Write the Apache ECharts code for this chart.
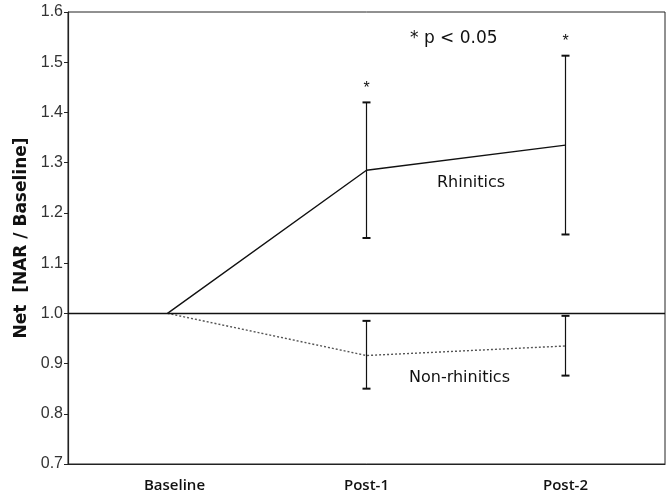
<!DOCTYPE html>
<html><head><meta charset="utf-8">
<script src="https://cdn.jsdelivr.net/npm/echarts@6/dist/echarts.min.js"></script>
<style>html,body{margin:0;padding:0;background:#fff}#c{width:667px;height:495px}</style>
</head><body><div id="c"></div>
<script>
const categories = ['Baseline', 'Post-1', 'Post-2'];
const rhinitics = [1.0, 1.285, 1.335];
const rhiniticsLow = [null, 1.15, 1.157];
const rhiniticsHigh = [null, 1.42, 1.513];
const nonRhinitics = [1.0, 0.916, 0.935];
const nonRhiniticsLow = [null, 0.85, 0.876];
const nonRhiniticsHigh = [null, 0.985, 0.995];
const significant = [false, true, true];
const yTicks = [0.7, 1.6, 0.1];

const chart = echarts.init(document.getElementById('c'));

function errData(low, high) {
  const d = [];
  for (let i = 0; i < categories.length; i++) {
    if (low[i] != null) d.push([i, low[i], high[i], significant[i] ? 1 : 0]);
  }
  return d;
}

function renderErr(withStar) {
  return function (params, api) {
    const x = api.value(0);
    const lo = api.coord([x, api.value(1)]);
    const hi = api.coord([x, api.value(2)]);
    const w = 4;
    const style = { stroke: '#111', lineWidth: 1.2 };
    const children = [
      { type: 'line', shape: { x1: hi[0], y1: hi[1], x2: lo[0], y2: lo[1] }, style },
      { type: 'line', shape: { x1: hi[0] - w, y1: hi[1], x2: hi[0] + w, y2: hi[1] }, style: { stroke: '#111', lineWidth: 2 } },
      { type: 'line', shape: { x1: lo[0] - w, y1: lo[1], x2: lo[0] + w, y2: lo[1] }, style: { stroke: '#111', lineWidth: 2 } }
    ];
    if (withStar && api.value(3) === 1) {
      children.push({ type: 'text', style: { text: '*', x: hi[0], y: hi[1] - 6, align: 'center', verticalAlign: 'bottom', font: '16px "Liberation Sans", Arial, sans-serif', fill: '#111' } });
    }
    return { type: 'group', children };
  };
}

chart.setOption({
  animation: false,
  grid: { left: 68, right: 2, top: 12, bottom: 31, show: true, borderColor: '#222', borderWidth: 1 },
  xAxis: {
    type: 'category', data: categories, boundaryGap: true,
    axisLine: { lineStyle: { color: '#222', width: 1.2 } },
    axisTick: { show: false },
    axisLabel: {
      color: '#111', fontSize: 15, fontWeight: 600, fontFamily: '"Open Sans", sans-serif', margin: 14,
      formatter: (v, i) => i === 0 ? '{b|' + v + '}' : v,
      rich: { b: { color: '#111', fontSize: 15, fontWeight: 600, fontFamily: '"Open Sans", sans-serif', padding: [0, 0, 0, 14] } }
    }
  },
  yAxis: {
    type: 'value', min: yTicks[0], max: yTicks[1], interval: yTicks[2],
    name: 'Net  [NAR / Baseline]', nameLocation: 'middle', nameGap: 37,
    nameTextStyle: { fontSize: 17, fontWeight: 'bold', color: '#111', fontFamily: '"DejaVu Sans", Verdana, sans-serif' },
    axisLine: { show: true, lineStyle: { color: '#222', width: 1.2 } },
    axisTick: { show: true, length: 4, lineStyle: { color: '#222' } },
    splitLine: { show: false },
    axisLabel: { color: '#333', fontSize: 16, fontFamily: '"Liberation Sans", Arial, sans-serif', margin: 5, formatter: v => v.toFixed(1) }
  },
  series: [
    {
      type: 'line', data: rhinitics, symbol: 'none',
      lineStyle: { color: '#111', width: 1.4 },
      markLine: { silent: true, symbol: 'none', label: { show: false }, lineStyle: { color: '#111', width: 1.4, type: 'solid' }, data: [{ yAxis: 1.0 }] },
      z: 3
    },
    {
      type: 'line', data: nonRhinitics, symbol: 'none',
      lineStyle: { color: '#555', width: 1.4, type: [2, 2] },
      z: 3
    },
    { type: 'custom', renderItem: renderErr(true), data: errData(rhiniticsLow, rhiniticsHigh), z: 4 },
    { type: 'custom', renderItem: renderErr(false), data: errData(nonRhiniticsLow, nonRhiniticsHigh), z: 4 }
  ],
  graphic: [
    { type: 'text', left: 410, top: 30, style: { text: '* p < 0.05', font: '17px "DejaVu Sans", Verdana, sans-serif', fill: '#111' } },
    { type: 'text', left: 437, top: 175, style: { text: 'Rhinitics', font: '16px "DejaVu Sans", Verdana, sans-serif', fill: '#111' } },
    { type: 'text', left: 409, top: 370, style: { text: 'Non-rhinitics', font: '16px "DejaVu Sans", Verdana, sans-serif', fill: '#111' } }
  ]
});
</script></body></html>
